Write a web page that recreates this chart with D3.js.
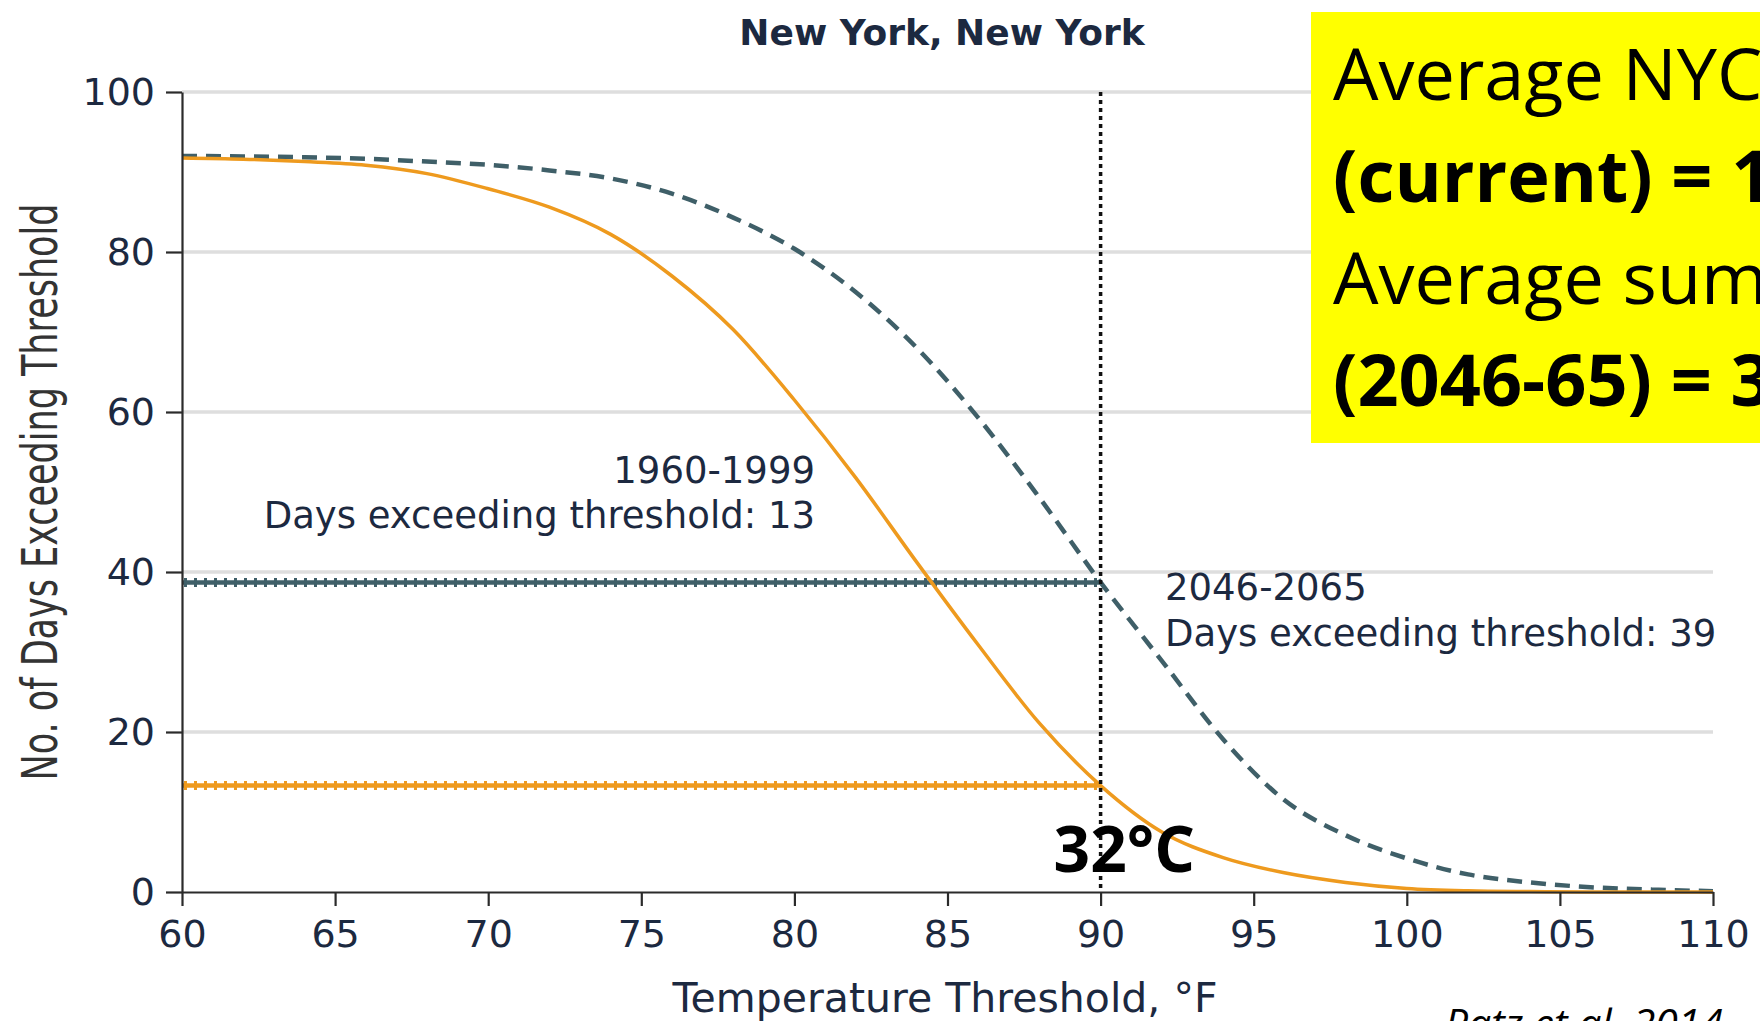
<!DOCTYPE html>
<html>
<head>
<meta charset="utf-8">
<script src="https://cdn.jsdelivr.net/npm/d3@7"></script>
<style>
  html, body { margin: 0; padding: 0; background: #fff; overflow: hidden; }
  svg { display: block; }
</style>
</head>
<body>
<div id="chart"></div>
<script>
// ─── data ───────────────────────────────────────────────────────────────
const temps     = [60, 62, 64, 66, 68, 70, 72, 74, 76, 78, 80, 82, 84, 86, 88, 90, 92, 94, 96, 98, 100, 102, 104, 106, 108, 110];
const days1960  = [91.75, 91.6, 91.3, 90.85, 89.8, 87.9, 85.6, 82.2, 77.0, 70.3, 61.5, 51.8, 41.2, 30.9, 21.1, 13.3, 7.5, 4.3, 2.4, 1.2, 0.45, 0.15, 0.05, 0, 0, 0];
const days2046  = [92.0, 91.95, 91.85, 91.65, 91.3, 90.9, 90.2, 89.2, 87.3, 84.3, 80.4, 75.0, 68.0, 59.3, 49.3, 38.7, 28.9, 19.1, 11.5, 7.1, 4.2, 2.2, 1.2, 0.6, 0.3, 0.1];
const xTicks    = [60, 65, 70, 75, 80, 85, 90, 95, 100, 105, 110];
const yTicks    = [0, 20, 40, 60, 80, 100];
const threshold = 90;
const exceed    = { p1960: 13.3, p2046: 38.7 };
const periodLabels = {
  p1960: ['1960-1999', 'Days exceeding threshold: 13'],
  p2046: ['2046-2065', 'Days exceeding threshold: 39']
};
const boxLines = [
  { text: 'Average NYC', bold: false },
  { text: '(current) = 13', bold: true },
  { text: 'Average summer', bold: false },
  { text: '(2046-65) = 39', bold: true }
];

const W = 1760, H = 1021;
const ORANGE = '#EE9A1E', TEAL = '#3F5F68', INK = '#1c2940';
const TXT = "'DejaVu Sans', sans-serif";

const svg = d3.select('#chart').append('svg')
  .attr('width', W).attr('height', H)
  .attr('viewBox', [0, 0, W, H]);

const x = d3.scaleLinear().domain([60, 110]).range([182, 1713]);
const y = d3.scaleLinear().domain([0, 100]).range([892, 92]);

/* ─── gridlines ─────────────────────────────────────────────────────── */
svg.append('g').selectAll('line')
  .data(yTicks.filter(d => d > 0))
  .join('line')
    .attr('x1', x(60)).attr('x2', x(110))
    .attr('y1', d => y(d)).attr('y2', d => y(d))
    .attr('stroke', '#dedede').attr('stroke-width', 3.5);

/* ─── exceedance reference lines (60 → 90 °F) ───────────────────────── */
function refLine(val, color) {
  const g = svg.append('g');
  g.append('line')
    .attr('x1', x(60)).attr('x2', x(threshold))
    .attr('y1', y(val)).attr('y2', y(val))
    .attr('stroke', color).attr('stroke-width', 4.5);
  g.append('line')
    .attr('x1', x(60) + 2).attr('x2', x(threshold))
    .attr('y1', y(val)).attr('y2', y(val))
    .attr('stroke', color).attr('stroke-width', 9)
    .attr('stroke-dasharray', '3,7');
}
refLine(exceed.p2046, TEAL);
refLine(exceed.p1960, ORANGE);

/* ─── curves ────────────────────────────────────────────────────────── */
const line = d3.line()
  .x((d, i) => x(temps[i]))
  .y(d => y(d))
  .curve(d3.curveMonotoneX);

svg.append('path')
  .datum(days2046)
  .attr('fill', 'none')
  .attr('stroke', TEAL)
  .attr('stroke-width', 4.5)
  .attr('stroke-dasharray', '15,9')
  .attr('d', line);

svg.append('path')
  .datum(days1960)
  .attr('fill', 'none')
  .attr('stroke', ORANGE)
  .attr('stroke-width', 3.5)
  .attr('d', line);

/* ─── threshold marker ──────────────────────────────────────────────── */
svg.append('line')
  .attr('x1', x(threshold)).attr('x2', x(threshold))
  .attr('y1', y(100)).attr('y2', y(0))
  .attr('stroke', '#111').attr('stroke-width', 3.5)
  .attr('stroke-dasharray', '4,4');

/* ─── axes ──────────────────────────────────────────────────────────── */
const yAxisG = svg.append('g')
  .attr('transform', `translate(${x(60)},0)`)
  .call(d3.axisLeft(y).tickValues(yTicks).tickSize(16).tickSizeOuter(0).tickPadding(11));

const xAxisG = svg.append('g')
  .attr('transform', `translate(0,${y(0)})`)
  .call(d3.axisBottom(x).tickValues(xTicks).tickSize(14).tickSizeOuter(0).tickPadding(14));

[yAxisG, xAxisG].forEach(g => {
  g.select('.domain').attr('stroke', '#2b2b2b').attr('stroke-width', 2.2);
  g.selectAll('.tick line').attr('stroke', '#2b2b2b').attr('stroke-width', 2.2);
  g.selectAll('.tick text')
    .attr('fill', INK)
    .style('font-family', TXT)
    .style('font-size', '38px');
});

/* ─── titles ────────────────────────────────────────────────────────── */
svg.append('text')
  .attr('x', 942).attr('y', 45)
  .attr('text-anchor', 'middle')
  .attr('fill', INK)
  .style('font-family', TXT).style('font-size', '36px').style('font-weight', 'bold')
  .text('New York, New York');

svg.append('text')
  .attr('x', 945).attr('y', 1012)
  .attr('text-anchor', 'middle')
  .attr('fill', INK)
  .style('font-family', TXT).style('font-size', '41px')
  .text('Temperature Threshold, °F');

// the source figure's y label is squeezed along its length; scale glyph height instead
svg.append('text')
  .attr('transform', 'translate(57,492) rotate(-90) scale(1,1.42)')
  .attr('text-anchor', 'middle')
  .attr('fill', '#333')
  .style('font-family', TXT).style('font-size', '35px')
  .text('No. of Days Exceeding Threshold');

/* ─── period annotations ────────────────────────────────────────────── */
const ann1960 = svg.append('text')
  .attr('text-anchor', 'end')
  .attr('fill', INK)
  .style('font-family', TXT).style('font-size', '37px');
periodLabels.p1960.forEach((t, i) => {
  ann1960.append('tspan').attr('x', 815).attr('y', 483 + i * 45).text(t);
});

const ann2046 = svg.append('text')
  .attr('text-anchor', 'start')
  .attr('fill', INK)
  .style('font-family', TXT).style('font-size', '37px');
periodLabels.p2046.forEach((t, i) => {
  ann2046.append('tspan').attr('x', 1165).attr('y', 600 + i * 46).text(t);
});

/* ─── 32°C callout ──────────────────────────────────────────────────── */
svg.append('text')
  .attr('x', x(threshold) - 47).attr('y', 872)
  .attr('fill', '#000')
  .style('font-family', "'Open Sans', sans-serif")
  .style('font-size', '64px').style('font-weight', 'bold')
  .text('32°C');

/* ─── yellow box (runs off the right edge) ──────────────────────────── */
svg.append('defs').append('clipPath').attr('id', 'box-clip')
  .append('rect').attr('x', 1311).attr('y', 12).attr('width', W - 1311).attr('height', 431);

const box = svg.append('g').attr('clip-path', 'url(#box-clip)');
box.append('rect')
  .attr('x', 1311).attr('y', 12)
  .attr('width', W - 1311).attr('height', 431)
  .attr('fill', '#FFFF00');

box.selectAll('text')
  .data(boxLines)
  .join('text')
    .attr('x', 1333)
    .attr('y', (d, i) => 100 + i * 102)
    .attr('fill', '#000')
    .style('font-family', "'Open Sans', sans-serif")
    .style('font-size', '72px')
    .style('font-weight', d => d.bold ? 'bold' : 'normal')
    .text(d => d.text);

/* ─── source ────────────────────────────────────────────────────────── */
svg.append('text')
  .attr('x', 1723).attr('y', 1038)
  .attr('text-anchor', 'end')
  .attr('fill', '#000')
  .style('font-family', "'Open Sans', sans-serif")
  .style('font-size', '41px').style('font-style', 'italic')
  .text('Patz et al. 2014');
</script>
</body>
</html>
